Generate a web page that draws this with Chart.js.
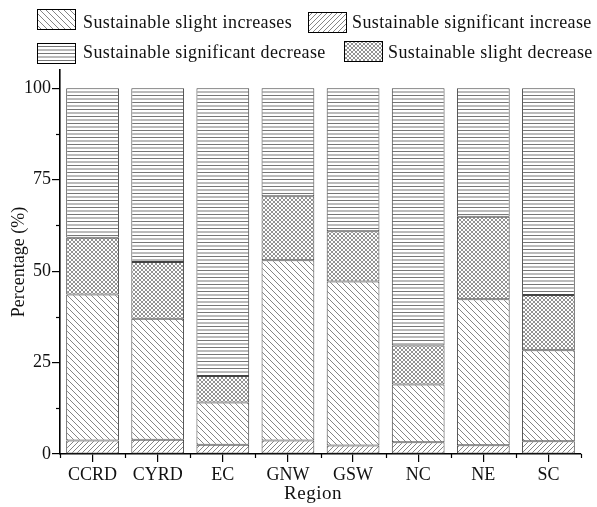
<!DOCTYPE html>
<html>
<head>
<meta charset="utf-8">
<script src="https://cdn.jsdelivr.net/npm/chart.js@4.4.1/dist/chart.umd.min.js"></script>
<style>
  body { margin: 0; background: #fff; }
  canvas { display: block; }
</style>
</head>
<body>
<canvas id="chart" width="597" height="507"></canvas>
<script>
var regions = ["CCRD", "CYRD", "EC", "GNW", "GSW", "NC", "NE", "SC"];
// stacked from the bottom up, percent of each region
var sigIncrease = [3.7, 3.9, 2.5, 3.7, 2.3, 3.2, 2.4, 3.5];
var slightIncrease = [39.9, 33.1, 11.6, 49.3, 44.9, 15.8, 39.9, 24.9];
var slightDecrease = [15.5, 15.5, 7.2, 17.5, 13.7, 10.7, 22.6, 15.1];
var sigDecrease = [40.9, 47.5, 78.7, 29.5, 39.1, 70.3, 35.1, 56.5];
var yTicks = [0, 25, 50, 75, 100];

var FONT = "'Liberation Serif', 'Times New Roman', serif";

function makePattern(kind) {
    var c = document.createElement("canvas");
    var ctx = c.getContext("2d");
    if (kind === "back") {          // \\\ lines
        c.width = 6; c.height = 6;
        ctx.fillStyle = "#fff"; ctx.fillRect(0, 0, 6, 6);
        ctx.strokeStyle = "#666"; ctx.lineWidth = 0.8;
        ctx.beginPath();
        ctx.moveTo(-1, -1); ctx.lineTo(7, 7);
        ctx.moveTo(-1, 5); ctx.lineTo(1, 7);
        ctx.moveTo(5, -1); ctx.lineTo(7, 1);
        ctx.stroke();
    } else if (kind === "fwd") {    // /// lines
        c.width = 5; c.height = 5;
        ctx.fillStyle = "#fff"; ctx.fillRect(0, 0, 5, 5);
        ctx.strokeStyle = "#666"; ctx.lineWidth = 0.8;
        ctx.beginPath();
        ctx.moveTo(-1, 6); ctx.lineTo(6, -1);
        ctx.moveTo(-1, 1); ctx.lineTo(1, -1);
        ctx.moveTo(4, 6); ctx.lineTo(6, 4);
        ctx.stroke();
    } else if (kind === "cross") {  // fine cross hatch
        c.width = 4; c.height = 4;
        ctx.fillStyle = "#fff"; ctx.fillRect(0, 0, 4, 4);
        ctx.strokeStyle = "#777"; ctx.lineWidth = 0.8;
        ctx.beginPath();
        ctx.moveTo(0, 0); ctx.lineTo(4, 4);
        ctx.moveTo(0, 4); ctx.lineTo(4, 0);
        ctx.stroke();
    } else {                        // horizontal lines
        c.width = 8; c.height = 7;
        ctx.fillStyle = "#fff"; ctx.fillRect(0, 0, 8, 7);
        ctx.strokeStyle = "#666"; ctx.lineWidth = 0.9;
        ctx.beginPath();
        ctx.moveTo(0, 1); ctx.lineTo(8, 1);
        ctx.moveTo(0, 4.5); ctx.lineTo(8, 4.5);
        ctx.stroke();
    }
    return ctx.createPattern(c, "repeat");
}

var patBack = makePattern("back");
var patFwd = makePattern("fwd");
var patCross = makePattern("cross");
var patHoriz = makePattern("horiz");

// legend drawn by hand to keep the 2x2 layout of the original
var legendItems = [
    { text: "Sustainable slight increases", fill: patBack, box: [37, 9, 38, 20], tx: 83, ty: 28 },
    { text: "Sustainable significant increase", fill: patFwd, box: [308, 12, 38, 20], tx: 352, ty: 28 },
    { text: "Sustainable significant decrease", fill: patHoriz, box: [37, 43, 38, 20], tx: 83, ty: 58 },
    { text: "Sustainable slight decrease", fill: patCross, box: [344, 41, 38, 20], tx: 388, ty: 58 }
];

var extrasPlugin = {
    id: "extras",
    afterDraw: function (chart) {
        var ctx = chart.ctx;
        var y = chart.scales.y;
        var area = chart.chartArea;
        ctx.save();
        ctx.strokeStyle = "#000";
        ctx.lineWidth = 1.2;
        // short ticks between categories
        var n = regions.length;
        for (var i = 0; i <= n; i++) {
            var px = Math.round(area.left + i * (area.right - area.left) / n) + 0.5;
            ctx.beginPath();
            ctx.moveTo(px, area.bottom);
            ctx.lineTo(px, area.bottom + 4);
            ctx.stroke();
        }
        // minor y ticks
        [12.5, 37.5, 62.5, 87.5].forEach(function (v) {
            var py = Math.round(y.getPixelForValue(v)) + 0.5;
            ctx.beginPath();
            ctx.moveTo(area.left - 4, py);
            ctx.lineTo(area.left, py);
            ctx.stroke();
        });
        // x axis title, sits a little left of centre in the original
        ctx.fillStyle = "#111";
        ctx.font = "19px " + FONT;
        ctx.textAlign = "center";
        ctx.textBaseline = "middle";
        ctx.letterSpacing = "0.5px";
        ctx.fillText("Region", 313, 494);
        // legend
        ctx.font = "18px " + FONT;
        ctx.textBaseline = "alphabetic";
        ctx.textAlign = "left";
        ctx.letterSpacing = "0.4px";
        legendItems.forEach(function (it) {
            var b = it.box;
            ctx.fillStyle = it.fill;
            ctx.fillRect(b[0], b[1], b[2], b[3]);
            ctx.lineWidth = 1;
            ctx.strokeStyle = "#000";
            ctx.strokeRect(b[0] + 0.5, b[1] + 0.5, b[2], b[3]);
            ctx.fillStyle = "#111";
            ctx.fillText(it.text, it.tx, it.ty);
        });
        ctx.restore();
    }
};

function ds(label, data, fill) {
    return {
        label: label,
        data: data,
        backgroundColor: fill,
        borderColor: "#444",
        borderWidth: 1,
        borderSkipped: false,
        barPercentage: 0.81,
        categoryPercentage: 1.0
    };
}

var chart = new Chart(document.getElementById("chart"), {
    type: "bar",
    data: {
        labels: regions,
        datasets: [
            ds("Sustainable significant increase", sigIncrease, patFwd),
            ds("Sustainable slight increases", slightIncrease, patBack),
            ds("Sustainable slight decrease", slightDecrease, patCross),
            ds("Sustainable significant decrease", sigDecrease, patHoriz)
        ]
    },
    options: {
        responsive: false,
        animation: false,
        layout: { padding: { top: 70, right: 16, left: 0, bottom: 0 } },
        plugins: {
            legend: { display: false },
            tooltip: { enabled: false }
        },
        scales: {
            x: {
                stacked: true,
                grid: { offset: false, drawOnChartArea: false, drawTicks: true, tickLength: 8, color: "#000", lineWidth: 1.2 },
                border: { display: true, color: "#000", width: 1.6 },
                ticks: { color: "#111", font: { family: FONT, size: 18 }, padding: 2, maxRotation: 0 },
                title: { display: false },
                afterFit: function (s) { s.height = 53; }
            },
            y: {
                stacked: true,
                min: 0,
                max: 105,
                grid: { drawOnChartArea: false, drawTicks: true, tickLength: 8, color: "#000", lineWidth: 1.2 },
                border: { display: true, color: "#000", width: 1.6 },
                ticks: { stepSize: 25, color: "#111", font: { family: FONT, size: 18 }, padding: 1 },
                afterBuildTicks: function (s) {
                    s.ticks = yTicks.map(function (v) { return { value: v }; });
                },
                title: { display: true, text: "Percentage (%)", color: "#111", font: { family: FONT, size: 18 }, padding: { top: 8, bottom: 0 } },
                afterFit: function (s) { s.width = 60; }
            }
        }
    },
    plugins: [extrasPlugin]
});
</script>
</body>
</html>
